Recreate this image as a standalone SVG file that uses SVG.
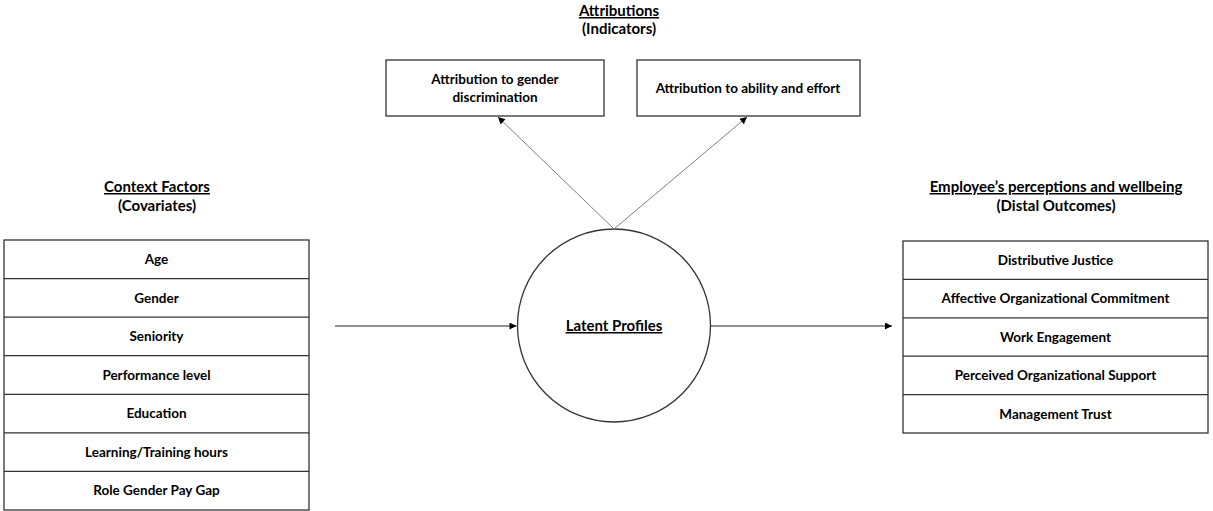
<svg xmlns="http://www.w3.org/2000/svg" width="1213" height="511" viewBox="0 0 1213 511">
  <defs>
    <marker id="arrow" viewBox="0 0 10 10" refX="10" refY="5" markerWidth="9" markerHeight="7" markerUnits="userSpaceOnUse" orient="auto">
      <path d="M0,0 L10,5 L0,10 z" fill="#000"/>
    </marker>
  </defs>
  <style>
    text { font-family: Lato, "Liberation Sans", sans-serif; font-weight: bold; font-size: 13.5px; fill: #000; text-anchor: middle; }
    .hdr { font-size: 15px; }
    .ul { text-decoration: underline; }
    .box { fill: #fff; stroke: #333; stroke-width: 1.3; }
    .row { stroke: #333; stroke-width: 1.3; }
    .conn { stroke: #222; stroke-width: 1; fill: none; }
    .diag { stroke: #808080; stroke-width: 1; fill: none; }
  </style>
  <rect width="1213" height="511" fill="#fff"/>

  <g id="header-attributions">
    <text class="hdr ul" x="619" y="16">Attributions</text>
    <text class="hdr" x="619" y="34">(Indicators)</text>
  </g>
  <g id="header-context">
    <text class="hdr ul" x="157" y="192">Context Factors</text>
    <text class="hdr" x="157" y="211">(Covariates)</text>
  </g>
  <g id="header-outcomes">
    <text class="hdr ul" x="1056" y="192">Employee’s perceptions and wellbeing</text>
    <text class="hdr" x="1056" y="211">(Distal Outcomes)</text>
  </g>

  <g id="node-gender-discrimination">
    <rect class="box" x="386" y="60" width="218" height="56"/>
    <text x="495" y="84">Attribution to gender</text>
    <text x="495" y="102">discrimination</text>
  </g>
  <g id="node-ability-effort">
    <rect class="box" x="637" y="60" width="223" height="56"/>
    <text x="748" y="93">Attribution to ability and effort</text>
  </g>

  <g id="node-latent-profiles">
    <circle class="box" cx="614" cy="325.5" r="96.5"/>
    <text class="hdr ul" x="614" y="331">Latent Profiles</text>
  </g>

  <g id="node-covariates">
    <rect class="box" x="4" y="240" width="305" height="270"/>
    <line class="row" x1="4" y1="278.6" x2="309" y2="278.6"/>
    <line class="row" x1="4" y1="317.1" x2="309" y2="317.1"/>
    <line class="row" x1="4" y1="355.7" x2="309" y2="355.7"/>
    <line class="row" x1="4" y1="394.3" x2="309" y2="394.3"/>
    <line class="row" x1="4" y1="432.9" x2="309" y2="432.9"/>
    <line class="row" x1="4" y1="471.4" x2="309" y2="471.4"/>
    <text x="156.5" y="264">Age</text>
    <text x="156.5" y="302.6">Gender</text>
    <text x="156.5" y="341.1">Seniority</text>
    <text x="156.5" y="379.7">Performance level</text>
    <text x="156.5" y="418.3">Education</text>
    <text x="156.5" y="456.8">Learning/Training hours</text>
    <text x="156.5" y="495.4">Role Gender Pay Gap</text>
  </g>

  <g id="node-outcomes">
    <rect class="box" x="903" y="241" width="305" height="192"/>
    <line class="row" x1="903" y1="279.4" x2="1208" y2="279.4"/>
    <line class="row" x1="903" y1="317.8" x2="1208" y2="317.8"/>
    <line class="row" x1="903" y1="356.2" x2="1208" y2="356.2"/>
    <line class="row" x1="903" y1="394.6" x2="1208" y2="394.6"/>
    <text x="1055.5" y="265">Distributive Justice</text>
    <text x="1055.5" y="303.4">Affective Organizational Commitment</text>
    <text x="1055.5" y="341.8">Work Engagement</text>
    <text x="1055.5" y="380.2">Perceived Organizational Support</text>
    <text x="1055.5" y="418.6">Management Trust</text>
  </g>

  <g id="connectors">
    <line class="conn" x1="335" y1="326" x2="516.5" y2="326" marker-end="url(#arrow)"/>
    <line class="conn" x1="711" y1="326" x2="892" y2="326" marker-end="url(#arrow)"/>
    <line class="diag" x1="614" y1="229" x2="498" y2="117" marker-end="url(#arrow)"/>
    <line class="diag" x1="614" y1="229" x2="747" y2="117" marker-end="url(#arrow)"/>
  </g>
</svg>
